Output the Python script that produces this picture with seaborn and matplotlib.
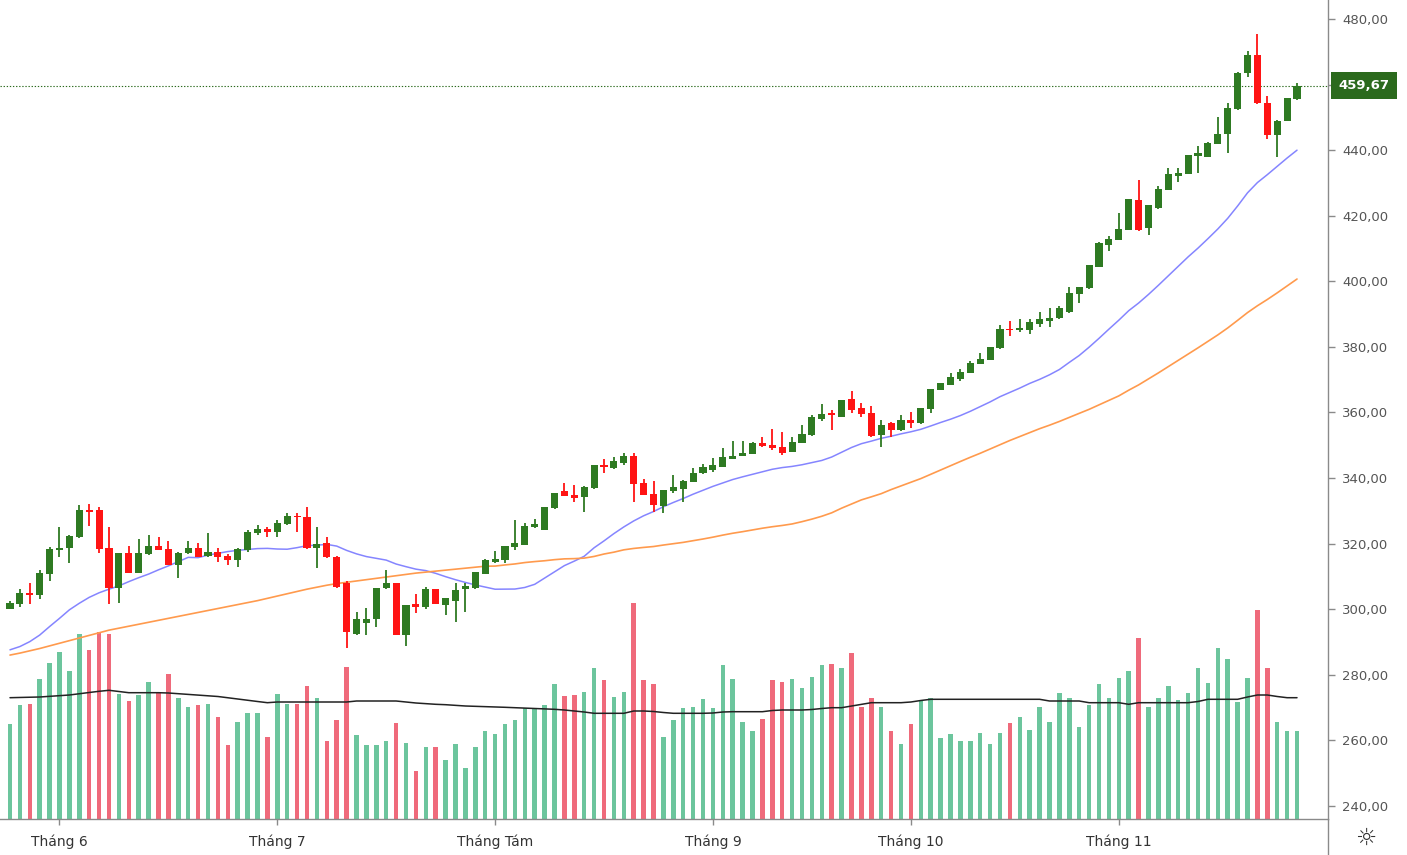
"""Biểu đồ nến HNX-Index với khối lượng và đường MA"""
import matplotlib
matplotlib.use("Agg")
import matplotlib.pyplot as plt
import matplotlib.transforms as mtransforms
from matplotlib.lines import Line2D
import seaborn as sns
import pandas as pd
import numpy as np

sns.set_theme(style="white")
plt.rcParams['font.family'] = ['DejaVu Sans']
plt.rcParams['axes.unicode_minus'] = False

# ---- dữ liệu ----
opens = [300.2, 301.6, 305.0, 304.3, 310.6, 317.9, 318.6, 322.0, 330.3, 330.3,
         318.8, 306.4, 317.0, 311.1, 316.7, 319.3, 318.4, 313.5, 317.0, 318.6,
         316.2, 317.5, 316.2, 315.0, 318.0, 323.1, 324.4, 323.6, 326.0, 328.4,
         328.0, 318.6, 320.1, 316.0, 308.1, 292.4, 295.7, 296.9, 306.4, 307.9,
         292.1, 301.6, 300.8, 306.1, 301.3, 302.6, 306.0, 306.4, 310.7, 314.5,
         315.0, 319.1, 319.6, 325.2, 324.2, 330.8, 335.9, 334.8, 334.3, 336.9,
         344.0, 343.0, 344.7, 346.7, 338.6, 335.1, 331.5, 335.9, 336.6, 338.9,
         341.4, 342.5, 343.5, 345.9, 346.7, 347.3, 350.6, 350.1, 349.4, 348.0,
         350.8, 353.1, 357.9, 359.8, 358.7, 364.0, 361.3, 359.8, 353.1, 356.9,
         354.5, 357.7, 356.7, 361.0, 366.9, 368.4, 370.2, 372.0, 374.8, 376.0,
         379.6, 385.4, 385.0, 385.0, 387.0, 388.0, 388.7, 390.7, 396.1, 397.9,
         404.5, 411.1, 412.6, 415.6, 424.8, 416.2, 422.3, 427.8, 432.1, 432.7,
         438.2, 438.0, 441.9, 444.9, 452.5, 463.4, 469.0, 454.5, 444.6, 449.0,
         455.5]
highs = [302.5, 306.2, 307.9, 312.0, 319.1, 325.2, 322.6, 331.8, 332.0, 331.3,
         325.2, 317.2, 319.3, 321.4, 322.6, 321.9, 320.9, 317.3, 320.9, 320.3,
         323.3, 318.6, 316.8, 318.6, 324.0, 325.7, 325.2, 327.2, 329.3, 329.3,
         331.3, 325.2, 321.9, 316.2, 308.5, 299.0, 300.3, 306.6, 312.0, 308.0,
         301.4, 304.6, 306.7, 306.2, 303.4, 307.9, 308.0, 311.3, 315.3, 317.6,
         319.4, 327.2, 326.2, 327.4, 331.2, 335.5, 338.4, 337.9, 337.5, 344.1,
         345.7, 346.3, 347.6, 347.6, 339.7, 339.2, 336.3, 341.0, 339.3, 343.0,
         344.3, 346.0, 349.1, 351.4, 351.4, 350.9, 352.4, 354.9, 353.9, 352.4,
         356.2, 359.3, 362.6, 360.8, 363.9, 366.4, 362.8, 362.0, 357.7, 357.0,
         359.2, 360.0, 361.4, 367.2, 369.0, 372.0, 373.2, 375.8, 378.2, 380.0,
         386.7, 388.0, 388.4, 388.4, 390.7, 391.8, 392.5, 398.2, 398.3, 405.1,
         411.9, 413.8, 420.9, 425.1, 430.9, 423.4, 429.1, 434.5, 434.5, 438.6,
         441.3, 442.4, 450.0, 454.5, 463.7, 470.3, 475.4, 456.5, 449.1, 455.9,
         460.6]
lows = [299.9, 300.8, 301.6, 303.0, 308.5, 315.8, 314.0, 321.6, 325.4, 317.0,
        301.6, 302.0, 311.0, 311.0, 316.6, 318.0, 313.4, 309.4, 316.9, 315.9,
        316.0, 314.5, 313.5, 313.0, 317.5, 322.6, 321.9, 322.1, 325.8, 323.6,
        318.5, 312.5, 315.7, 306.6, 288.1, 292.0, 292.1, 294.7, 306.2, 292.0,
        288.9, 298.8, 299.9, 301.5, 298.2, 296.2, 299.0, 306.3, 310.6, 314.0,
        314.0, 318.0, 319.5, 324.8, 324.1, 330.7, 334.4, 332.8, 329.7, 336.8,
        341.4, 342.9, 344.0, 332.8, 334.7, 329.7, 329.4, 335.5, 332.8, 338.8,
        341.2, 341.9, 343.4, 345.8, 346.6, 347.2, 349.4, 348.6, 347.0, 347.8,
        350.6, 352.8, 357.5, 354.5, 358.6, 359.9, 358.5, 352.4, 349.4, 352.4,
        354.4, 355.2, 356.6, 359.8, 366.8, 368.3, 369.7, 371.9, 374.7, 375.9,
        379.5, 383.3, 384.6, 383.9, 386.2, 386.2, 388.6, 390.4, 393.5, 397.8,
        404.4, 409.3, 412.5, 415.5, 415.4, 414.1, 422.2, 427.7, 430.4, 432.6,
        433.1, 437.9, 441.8, 439.0, 452.4, 462.2, 454.2, 443.3, 438.0, 448.9,
        455.4]
closes = [302.0, 305.0, 304.3, 311.0, 318.4, 318.8, 322.3, 330.3, 329.6, 318.4,
          306.4, 317.0, 311.1, 317.0, 319.3, 318.1, 313.5, 317.2, 318.6, 316.0,
          317.5, 315.9, 315.0, 318.3, 323.6, 324.4, 323.6, 326.4, 328.4, 328.0,
          318.6, 319.9, 315.8, 306.7, 293.1, 296.9, 296.9, 306.4, 307.9, 292.1,
          301.3, 300.8, 306.1, 301.6, 303.3, 305.9, 307.0, 311.2, 315.0, 315.2,
          319.3, 320.3, 325.4, 325.9, 331.1, 335.4, 334.5, 333.8, 337.4, 344.0,
          343.3, 345.3, 346.7, 338.2, 334.8, 331.8, 336.2, 337.2, 339.2, 341.6,
          343.3, 344.0, 346.3, 346.7, 347.6, 350.8, 349.9, 349.1, 347.7, 351.1,
          353.5, 358.7, 359.5, 359.2, 363.8, 360.8, 359.5, 352.8, 356.2, 354.5,
          357.7, 356.7, 361.3, 367.1, 368.9, 370.7, 372.3, 375.0, 376.2, 379.9,
          385.4, 385.0, 385.7, 387.7, 388.4, 388.7, 391.8, 396.3, 398.2, 405.0,
          411.8, 412.8, 415.9, 425.0, 415.6, 423.3, 428.1, 432.7, 433.1, 438.5,
          439.0, 442.3, 444.9, 452.8, 463.6, 469.0, 454.3, 444.6, 449.0, 455.8,
          459.67]
volumes = [95, 114, 115, 140, 156, 167, 148, 185, 169, 187,
           185, 125, 118, 124, 137, 127, 145, 121, 112, 114,
           115, 102, 74, 97, 106, 106, 82, 125, 115, 115,
           133, 121, 78, 99, 152, 84, 74, 74, 78, 96,
           76, 48, 72, 72, 59, 75, 51, 72, 88, 85,
           95, 99, 111, 111, 114, 135, 123, 124, 127, 151,
           139, 122, 127, 216, 139, 135, 82, 99, 111, 112,
           120, 111, 154, 140, 97, 88, 100, 139, 137, 140,
           131, 142, 154, 155, 151, 166, 112, 121, 112, 88,
           75, 95, 118, 121, 81, 85, 78, 78, 86, 75,
           86, 96, 102, 89, 112, 97, 126, 121, 92, 114,
           135, 121, 141, 148, 181, 112, 121, 133, 119, 126,
           151, 136, 171, 160, 117, 141, 209, 151, 97, 88,
           88]
# đường trung bình khối lượng (đọc trực tiếp)
vol_ma = [121.3, 121.5, 121.8, 122.0, 122.7, 123.3, 124.0, 125.3, 126.5, 127.7,
          128.7, 127.5, 126.3, 126.3, 126.3, 126.3, 126.0, 125.3, 124.7, 124.0,
          123.3, 122.5, 121.3, 120.0, 118.7, 117.5, 116.3, 117.0, 117.0, 117.0,
          117.0, 117.0, 117.0, 117.0, 117.0, 118.0, 118.0, 118.0, 118.0, 118.0,
          117.0, 116.0, 115.3, 114.7, 114.3, 113.7, 113.0, 112.7, 112.3, 112.0,
          111.7, 111.3, 111.0, 110.5, 110.0, 109.7, 109.0, 108.0, 107.0, 105.7,
          105.7, 105.7, 105.7, 108.0, 108.0, 107.5, 106.5, 105.7, 105.7, 105.7,
          105.7, 106.0, 107.0, 107.3, 107.3, 107.3, 107.3, 108.5, 109.0, 109.0,
          109.0, 109.5, 110.5, 111.3, 111.3, 113.0, 114.7, 116.3, 116.3, 116.3,
          116.3, 117.0, 118.5, 119.7, 119.7, 119.7, 119.7, 119.7, 119.7, 119.7,
          119.7, 119.7, 119.7, 119.7, 119.7, 118.0, 118.0, 118.0, 118.0, 116.3,
          116.3, 116.3, 116.3, 114.7, 116.3, 116.3, 116.3, 116.3, 116.3, 116.3,
          117.5, 119.7, 119.7, 119.7, 119.7, 122.0, 124.0, 124.0, 122.5, 121.3,
          121.3]
# giá trị MA đầu chuỗi (trước khi đủ số phiên)
ma20_head = [287.6, 288.6, 290.1, 292.1, 294.7, 297.2, 299.8, 301.8, 303.6, 305.0,
             306.1, 307.1, 308.4, 309.6, 310.7, 312.0, 313.2, 314.5, 315.8]
ma50_head = [286.0, 286.6, 287.3, 288.0, 288.8, 289.6, 290.4, 291.2, 292.0, 292.8,
             293.6, 294.2, 294.8, 295.4, 296.0, 296.6, 297.2, 297.8, 298.4, 299.0,
             299.6, 300.2, 300.8, 301.4, 302.0, 302.6, 303.3, 304.0, 304.7, 305.4,
             306.1, 306.7, 307.3, 307.8, 308.2, 308.6, 309.0, 309.4, 309.8, 310.2,
             310.6, 311.0, 311.3, 311.6, 311.9, 312.2, 312.5, 312.8, 313.1]
holidays = ['2021-09-02', '2021-09-03']
month_names = {6: 'Tháng 6', 7: 'Tháng 7', 8: 'Tháng Tám',
               9: 'Tháng 9', 10: 'Tháng 10', 11: 'Tháng 11'}
last_price = 459.67

# ---- chuẩn bị ----
dates = pd.bdate_range('2021-05-25', '2021-11-25').drop(pd.to_datetime(holidays))
df = pd.DataFrame({'date': dates, 'open': opens, 'high': highs, 'low': lows,
                   'close': closes, 'volume': volumes, 'vol_ma': vol_ma})
df['x'] = np.arange(len(df))
df['up'] = df['close'] >= df['open']

ma20 = df['close'].rolling(20).mean()
ma20.iloc[:len(ma20_head)] = ma20_head
ma50 = df['close'].rolling(50).mean()
ma50.iloc[:len(ma50_head)] = ma50_head
df['ma20'] = ma20
df['ma50'] = ma50

first_of_month = df.groupby(df['date'].dt.month)['x'].min()
tick_pos = [first_of_month[m] for m in month_names]
tick_lab = [month_names[m] for m in month_names]

CANDLE_UP, CANDLE_DN = '#2e7a22', '#ff1414'
VOL_UP, VOL_DN = '#6cc59d', '#ef6a7b'
LABEL_GREEN = '#2b6a1d'

# ---- vẽ ----
W, H = 1407, 855
fig = plt.figure(figsize=(W / 100, H / 100), dpi=100)
ax_left, ax_bottom = 0, (H - 819) / H
ax_w, ax_h = 1328 / W, 819 / H
ax_vol = fig.add_axes([ax_left, ax_bottom, ax_w, ax_h])
ax = fig.add_axes([ax_left, ax_bottom, ax_w, ax_h], sharex=ax_vol)
ax.patch.set_visible(False)

# khối lượng
vol_colors = np.where(df['up'], VOL_UP, VOL_DN)
ax_vol.bar(df['x'], df['volume'], width=0.46, color=vol_colors, linewidth=0)
sns.lineplot(x=df['x'], y=df['vol_ma'], ax=ax_vol, color='#222222', linewidth=1.1)
ax_vol.set_ylim(0, 819)
ax_vol.set_yticks([])
ax_vol.set_ylabel('')
ax_vol.set_xlabel('')
for s in ax_vol.spines.values():
    s.set_visible(False)

# đường MA giá
sns.lineplot(x=df['x'], y=df['ma20'], ax=ax, color='#8585ff', linewidth=1.1)
sns.lineplot(x=df['x'], y=df['ma50'], ax=ax, color='#ff9a4d', linewidth=1.2)

# nến
colors = np.where(df['up'], CANDLE_UP, CANDLE_DN)
ax.vlines(df['x'], df['low'], df['high'], colors=colors, linewidth=1.3, zorder=3)
body_low = df[['open', 'close']].min(axis=1)
body_h = (df['close'] - df['open']).abs().clip(lower=0.45)
ax.bar(df['x'], body_h, bottom=body_low, width=0.72, color=colors,
       linewidth=0, zorder=4)

# đường giá hiện tại + nhãn giá
ax.axhline(last_price, color=LABEL_GREEN, linestyle=(0, (1.2, 1.6)),
           linewidth=0.8, zorder=2)
trans = mtransforms.blended_transform_factory(ax.transAxes, ax.transData)
ax.text(1.0 + 36 / 1328, last_price, f'{last_price:.2f}'.replace('.', ','),
        transform=trans, ha='center', va='center', color='white',
        fontsize=9.5, fontweight='bold', zorder=7, clip_on=False,
        bbox=dict(boxstyle='square,pad=0.55', facecolor=LABEL_GREEN,
                  edgecolor='none'))

# trục
ax.set_xlim(-1.01, 133.13)
ax.set_ylim(236.0, 485.8)
yt = list(range(240, 481, 20))
ax.set_yticks(yt)
ax.set_yticklabels([f'{v:.2f}'.replace('.', ',') for v in yt])
ax.yaxis.tick_right()
ax.tick_params(axis='y', which='both', right=True, left=False, length=5,
               width=1, color='#8a8a8a', labelsize=9.5, labelcolor='#555555', pad=5)
ax.set_xticks(tick_pos)
ax.set_xticklabels(tick_lab)
ax.tick_params(axis='x', bottom=True, length=4, width=1, color='#8a8a8a',
               labelsize=10, labelcolor='#333333', pad=7)
ax_vol.tick_params(axis='x', bottom=False, labelbottom=False)
ax.set_xlabel('')
ax.set_ylabel('')
ax.grid(False)
ax_vol.grid(False)
for name, s in ax.spines.items():
    if name in ('right', 'bottom'):
        s.set_visible(True)
        s.set_color('#8a8a8a')
        s.set_linewidth(1)
    else:
        s.set_visible(False)

# góc dưới phải
x_axis = 1328 / W
fig.add_artist(Line2D([x_axis, x_axis], [0, ax_bottom], color='#8a8a8a',
                      linewidth=1, transform=fig.transFigure))
fig.text(1366 / W, 1 - 838 / H, '☼', ha='center', va='center',
         fontsize=17, color='#333333')

fig.savefig('out.png', dpi=100)
